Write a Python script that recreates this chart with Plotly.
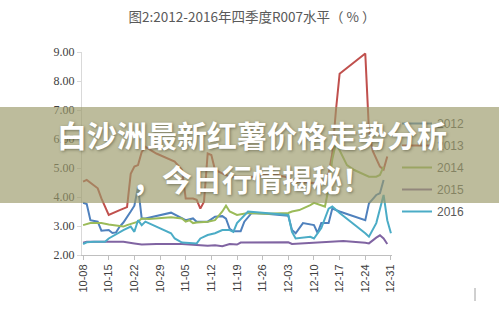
import plotly.graph_objects as go
import pandas as pd

# Q4 R007 levels (%) by trading day, one list per year
d2012 = ["10-08", "10-09", "10-10", "10-12", "10-13", "10-15", "10-16", "10-17", "10-18", "10-19",
         "10-21", "10-22", "10-23", "10-24", "10-25", "10-27", "11-01", "11-05", "11-06", "11-07",
         "11-08", "11-11", "11-13", "11-15", "11-16", "11-17", "11-18", "11-20", "11-21", "11-23",
         "11-27", "12-03", "12-04", "12-05", "12-07", "12-10", "12-11", "12-12", "12-14", "12-15",
         "12-17", "12-24", "12-25", "12-27", "12-28", "12-29"]
v2012 = [3.80, 3.76, 3.20, 3.15, 2.84, 2.86, 2.76, 2.78, 2.98, 3.12,
         3.50, 3.70, 4.35, 3.26, 3.26, 3.32, 3.46, 3.20, 3.22, 3.26,
         3.15, 3.15, 3.32, 3.34, 3.25, 2.90, 2.82, 2.82, 3.15, 3.45,
         3.42, 3.35, 2.86, 2.75, 3.10, 3.03, 2.76, 3.10, 3.10, 3.60,
         3.50, 3.20, 3.78, 4.07, 4.13, 4.59]

d2013 = ["10-08", "10-09", "10-12", "10-13", "10-15", "10-17", "10-18", "10-20", "10-21", "10-22",
         "10-23", "10-24", "10-25", "10-28", "11-02", "11-04", "11-05", "11-07", "11-08", "11-09",
         "11-10", "11-11", "11-12", "11-13", "11-17", "11-24", "11-28", "12-02", "12-05", "12-11",
         "12-13", "12-14", "12-15", "12-16", "12-17", "12-24", "12-25", "12-26", "12-27", "12-28",
         "12-29", "12-30"]
v2013 = [4.53, 4.59, 4.30, 3.95, 3.38, 3.50, 3.55, 3.65, 4.80, 5.05,
         5.10, 5.55, 5.73, 5.50, 5.22, 4.93, 3.95, 3.95, 3.90, 3.60,
         3.84, 5.50, 5.45, 4.93, 4.70, 4.70, 4.82, 4.70, 4.53, 4.47,
         4.59, 4.82, 5.50, 7.00, 8.25, 8.95, 6.30, 5.60, 5.30, 5.05,
         4.95, 5.40]

d2014 = ["10-08", "10-10", "10-13", "10-15", "10-19", "10-20", "10-23", "10-24", "10-26", "11-01",
         "11-04", "11-05", "11-06", "11-07", "11-08", "11-11", "11-13", "11-15", "11-16", "11-17",
         "11-19", "11-22", "11-27", "12-03", "12-04", "12-06", "12-09", "12-10", "12-13", "12-14",
         "12-15", "12-16", "12-19", "12-21", "12-25", "12-27", "12-28", "12-29"]
v2014 = [3.03, 3.10, 3.10, 3.05, 2.98, 3.03, 3.15, 3.26, 3.24, 3.30,
         3.26, 3.15, 3.20, 3.10, 3.12, 3.15, 3.20, 3.50, 3.70, 3.50,
         3.38, 3.45, 3.42, 3.45, 3.50, 3.55, 3.72, 3.80, 3.67, 4.30,
         5.30, 5.86, 5.10, 4.93, 4.70, 4.70, 4.76, 5.05]

d2015 = ["10-08", "10-09", "10-14", "10-19", "10-22", "10-24", "10-28", "11-04", "11-07", "11-11",
         "11-13", "11-15", "11-17", "11-19", "11-20", "11-26", "12-03", "12-04", "12-09", "12-14",
         "12-18", "12-24", "12-25", "12-27", "12-28", "12-29", "12-30"]
v2015 = [2.42, 2.46, 2.46, 2.46, 2.40, 2.36, 2.38, 2.38, 2.35, 2.32,
         2.34, 2.30, 2.38, 2.36, 2.43, 2.43, 2.44, 2.38, 2.42, 2.46,
         2.48, 2.42, 2.40, 2.60, 2.68, 2.57, 2.38]

d2016 = ["10-08", "10-09", "10-11", "10-14", "10-15", "10-18", "10-19", "10-21", "10-22", "10-23",
         "10-24", "10-25", "11-01", "11-02", "11-04", "11-08", "11-09", "11-11", "11-13", "11-15",
         "11-17", "11-18", "11-19", "11-22", "12-03", "12-04", "12-05", "12-09", "12-10", "12-12",
         "12-14", "12-15", "12-17", "12-24", "12-25", "12-27", "12-29", "12-30", "12-31"]
v2016 = [2.38, 2.44, 2.46, 2.46, 2.57, 2.80, 2.86, 2.98, 2.80, 3.20,
         3.03, 3.15, 2.75, 2.57, 2.43, 2.40, 2.57, 2.69, 2.75, 2.86,
         2.86, 2.80, 3.10, 3.50, 3.38, 2.80, 2.57, 2.63, 2.57, 2.93,
         3.60, 3.67, 3.45, 2.75, 2.63, 3.10, 4.07, 3.20, 2.75]

years = ["2012", "2013", "2014", "2015", "2016"]
dates = [d2012, d2013, d2014, d2015, d2016]
values = [v2012, v2013, v2014, v2015, v2016]
colors = ["#4F81BD", "#C0504D", "#9BBB59", "#8064A2", "#4BACC6"]

y_ticks = [2, 3, 4, 5, 6, 7, 8, 9]

title_text = "图2:2012-2016年四季度R007水平（ % ）"
banner_line1 = "白沙洲最新红薯价格走势分析"
banner_line2 = "，今日行情揭秘！"


def to_ts(md):
    # all years share one calendar axis (month-day)
    return pd.to_datetime(["2016-" + s for s in md])


fig = go.Figure()
for yr, md, vals, col in zip(years, dates, values, colors):
    fig.add_trace(go.Scatter(
        x=to_ts(md), y=vals, mode="lines", name=yr, legendgroup=yr,
        line=dict(color=col, width=2),
    ))

L, R, T, B = 82, 107, 52, 56
W, H = 499, 311
pw, ph = W - L - R, H - T - B


def px_x(x):
    return (x - L) / pw


def px_y(y):
    return (H - B - y) / ph


fig.update_layout(
    template="none",
    width=W, height=H,
    margin=dict(l=L, r=R, t=T, b=B, autoexpand=False),
    paper_bgcolor="white", plot_bgcolor="white",
    title=dict(text=title_text, x=252 / W, xanchor="center", y=1 - 17 / H, yanchor="middle",
               font=dict(family="Noto Sans CJK SC", size=13.5, color="#595959")),
    xaxis=dict(
        type="date",
        range=[pd.Timestamp("2016-10-08") - pd.Timedelta(hours=7),
               pd.Timestamp("2016-12-31") + pd.Timedelta(hours=7)],
        tick0="2016-10-08", dtick=7 * 86400000, tickformat="%m-%d",
        tickangle=-90, showgrid=False, zeroline=False,
        showline=True, linecolor="#BFBFBF", linewidth=1,
        ticks="outside", ticklen=4, tickcolor="#BFBFBF",
        tickfont=dict(family="Liberation Sans", size=11, color="#404040"),
        automargin=False,
    ),
    yaxis=dict(
        range=[2, 9], tickvals=y_ticks, tickformat=".2f",
        showgrid=False, zeroline=False,
        showline=True, linecolor="#D9D9D9", linewidth=1,
        ticks="outside", ticklen=4, tickcolor="#D9D9D9",
        tickfont=dict(family="Liberation Serif", size=12, color="#404040"),
        automargin=False,
    ),
    legend=dict(
        x=px_x(397), xanchor="left", y=px_y(109), yanchor="top",
        bgcolor="rgba(0,0,0,0)", borderwidth=0,
        font=dict(family="Liberation Sans", size=12, color="#595959"),
        tracegroupgap=3, traceorder="grouped",
    ),
    showlegend=True,
)

# translucent headline banner across the chart
fig.add_annotation(
    xref="paper", yref="paper", x=px_x(W / 2), y=px_y(155),
    xanchor="center", yanchor="middle", text="", showarrow=False,
    width=W, height=96, borderpad=0, borderwidth=0,
    bgcolor="rgba(155,153,105,0.66)",
)
for txt, yc in [(banner_line1, 134), (banner_line2, 178)]:
    fig.add_annotation(
        xref="paper", yref="paper", x=px_x(252), y=px_y(yc),
        xanchor="center", yanchor="middle", text="<b>" + txt + "</b>", showarrow=False,
        font=dict(family="Noto Sans CJK SC", size=30, color="white",
                  shadow="1px 1px 3px rgba(60,60,40,0.55)"),
    )

# small mark at lower right
fig.add_shape(type="line", xref="paper", yref="paper",
              x0=px_x(475), x1=px_x(475), y0=px_y(288), y1=px_y(301),
              line=dict(color="#A0A0A0", width=1))

fig.write_html("out.html")
